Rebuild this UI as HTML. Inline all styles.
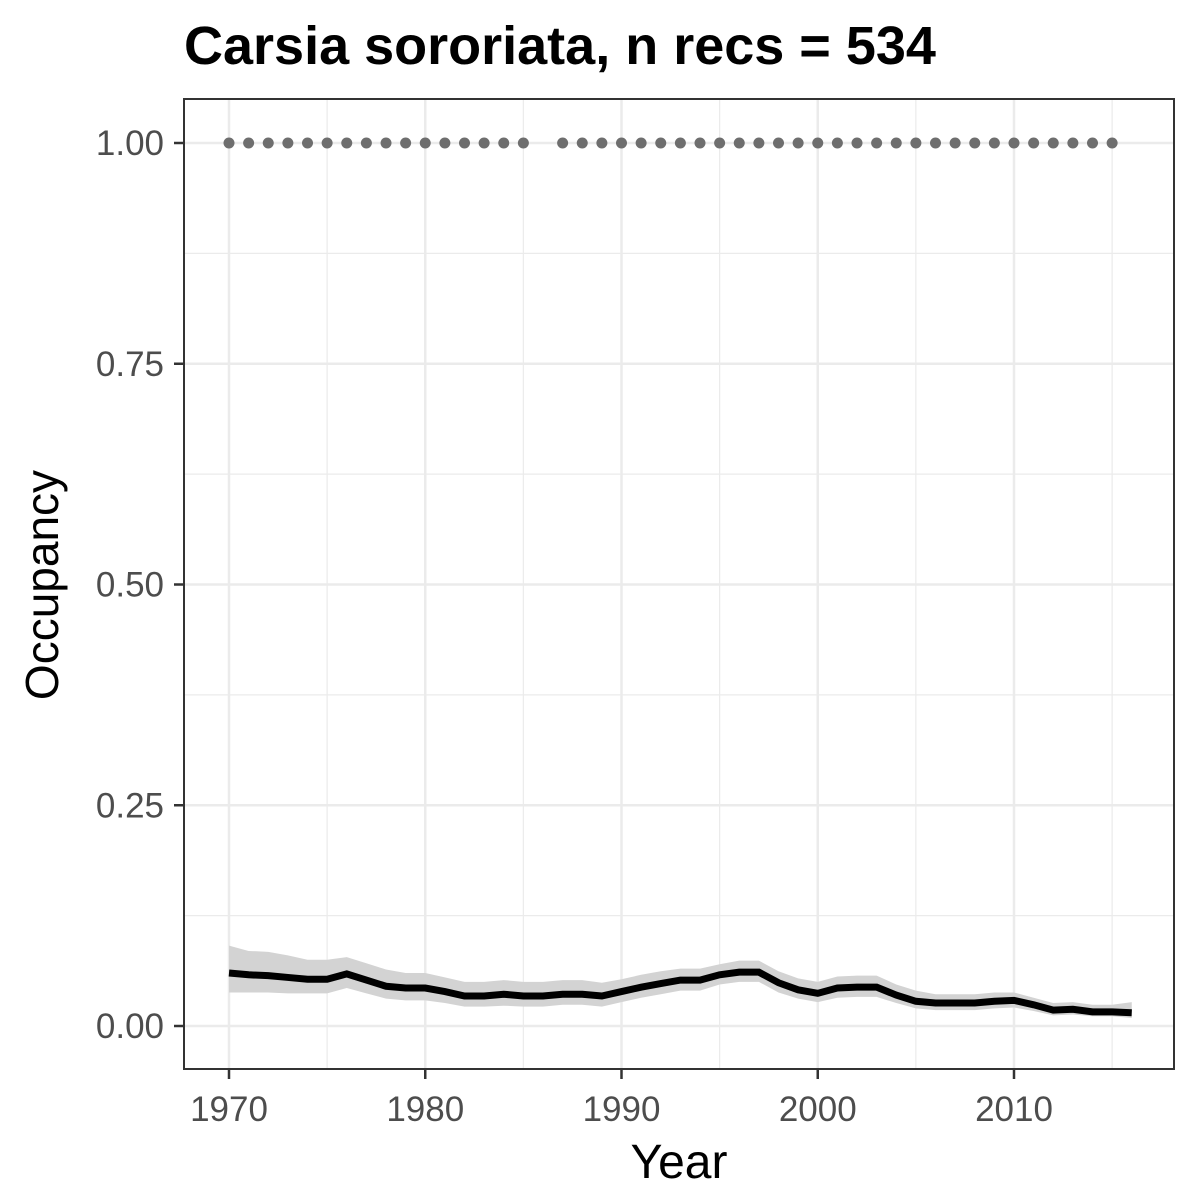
<!DOCTYPE html>
<html><head><meta charset="utf-8"><style>
html,body{margin:0;padding:0;background:#fff;}
svg{display:block;font-family:"Liberation Sans",Arial,sans-serif;}
</style></head><body>
<svg id="chart" width="1200" height="1200" viewBox="0 0 1200 1200">
<rect width="1200" height="1200" fill="#fff"/>
<text x="184" y="64" font-size="54" font-weight="bold" fill="#000">Carsia sororiata, n recs = 534</text>
<g id="grid"></g>
<g id="marks"></g>
<rect x="184" y="99" width="990" height="970" fill="none" stroke="#333" stroke-width="2"/>
<g id="axes"></g>
<text x="679" y="1178" font-size="48" text-anchor="middle" fill="#000">Year</text>
<text transform="translate(58,585) rotate(-90)" font-size="46" text-anchor="middle" fill="#000">Occupancy</text>
</svg>
<script>
const years=[1970,1971,1972,1973,1974,1975,1976,1977,1978,1979,1980,1981,1982,1983,1984,1985,1986,1987,1988,1989,1990,1991,1992,1993,1994,1995,1996,1997,1998,1999,2000,2001,2002,2003,2004,2005,2006,2007,2008,2009,2010,2011,2012,2013,2014,2015,2016];
const mean=[0.060,0.058,0.057,0.055,0.053,0.053,0.059,0.052,0.045,0.043,0.043,0.039,0.034,0.034,0.036,0.034,0.034,0.036,0.036,0.034,0.039,0.044,0.048,0.052,0.052,0.058,0.061,0.061,0.049,0.041,0.037,0.043,0.044,0.044,0.035,0.028,0.026,0.026,0.026,0.028,0.029,0.024,0.018,0.019,0.016,0.016,0.015];
const upper=[0.091,0.085,0.084,0.080,0.075,0.075,0.078,0.071,0.064,0.060,0.060,0.055,0.050,0.050,0.052,0.050,0.050,0.052,0.052,0.049,0.053,0.058,0.062,0.065,0.065,0.070,0.074,0.074,0.062,0.054,0.050,0.056,0.057,0.057,0.047,0.040,0.036,0.036,0.036,0.038,0.038,0.032,0.026,0.027,0.024,0.024,0.027];
const lower=[0.038,0.038,0.038,0.037,0.037,0.037,0.043,0.037,0.031,0.029,0.029,0.026,0.022,0.022,0.023,0.022,0.022,0.024,0.024,0.022,0.027,0.032,0.036,0.040,0.040,0.047,0.050,0.050,0.038,0.031,0.027,0.032,0.033,0.033,0.026,0.020,0.018,0.018,0.018,0.020,0.021,0.017,0.012,0.013,0.011,0.011,0.009];
const recYears=[1970,1971,1972,1973,1974,1975,1976,1977,1978,1979,1980,1981,1982,1983,1984,1985,1987,1988,1989,1990,1991,1992,1993,1994,1995,1996,1997,1998,1999,2000,2001,2002,2003,2004,2005,2006,2007,2008,2009,2010,2011,2012,2013,2014,2015];
const xTicks=[1970,1980,1990,2000,2010];
const yTicks=[0,0.25,0.5,0.75,1];
const yTickLabels=["0.00","0.25","0.50","0.75","1.00"];
const X=v=>229+(v-1970)*19.625;
const Y=v=>1026-v*883;
const NS="http://www.w3.org/2000/svg";
function mk(tag,attrs,parent){const e=document.createElementNS(NS,tag);for(const k in attrs)e.setAttribute(k,attrs[k]);parent.appendChild(e);return e;}
const grid=document.getElementById('grid'),marks=document.getElementById('marks'),axes=document.getElementById('axes');
for(let i=0;i<xTicks.length;i++){const m=xTicks[i]+5;const l=mk('line',{x1:X(m),x2:X(m),y1:99,y2:1069,stroke:'#ebebeb','stroke-width':1.2},grid);

}
for(let i=0;i<yTicks.length-1;i++){const m=(yTicks[i]+yTicks[i+1])/2;const l=mk('line',{x1:184,x2:1174,y1:Y(m),y2:Y(m),stroke:'#ebebeb','stroke-width':1.2},grid);

}
xTicks.forEach(t=>{const l=mk('line',{x1:X(t),x2:X(t),y1:99,y2:1069,stroke:'#ebebeb','stroke-width':2.5},grid);


const tk=mk('line',{x1:X(t),x2:X(t),y1:1069,y2:1079,stroke:'#333','stroke-width':2.5},axes);


const tx=mk('text',{x:X(t),y:1121,'font-size':35,'text-anchor':'middle',fill:'#4d4d4d'},axes);tx.textContent=t;

});
yTicks.forEach((t,i)=>{const l=mk('line',{x1:184,x2:1174,y1:Y(t),y2:Y(t),stroke:'#ebebeb','stroke-width':2.5},grid);


const tk=mk('line',{x1:174,x2:184,y1:Y(t),y2:Y(t),stroke:'#333','stroke-width':2.5},axes);


const tx=mk('text',{x:164,y:Y(t)+12,'font-size':35,'text-anchor':'end',fill:'#4d4d4d'},axes);tx.textContent=yTickLabels[i];

});
let d='';years.forEach((y,i)=>{d+=(i?'L':'M')+X(y)+','+Y(upper[i]);});
for(let i=years.length-1;i>=0;i--)d+='L'+X(years[i])+','+Y(lower[i]);
const rib=mk('path',{d:d+'Z',fill:'#d3d3d3'},marks);


let ld='';years.forEach((y,i)=>{ld+=(i?'L':'M')+X(y)+','+Y(mean[i]);});
const ln=mk('path',{d:ld,fill:'none',stroke:'#000','stroke-width':7},marks);


recYears.forEach(y=>{const c=mk('circle',{cx:X(y),cy:Y(1),r:5.5,fill:'#6e6e6e'},marks);

});
</script>
</body></html>
